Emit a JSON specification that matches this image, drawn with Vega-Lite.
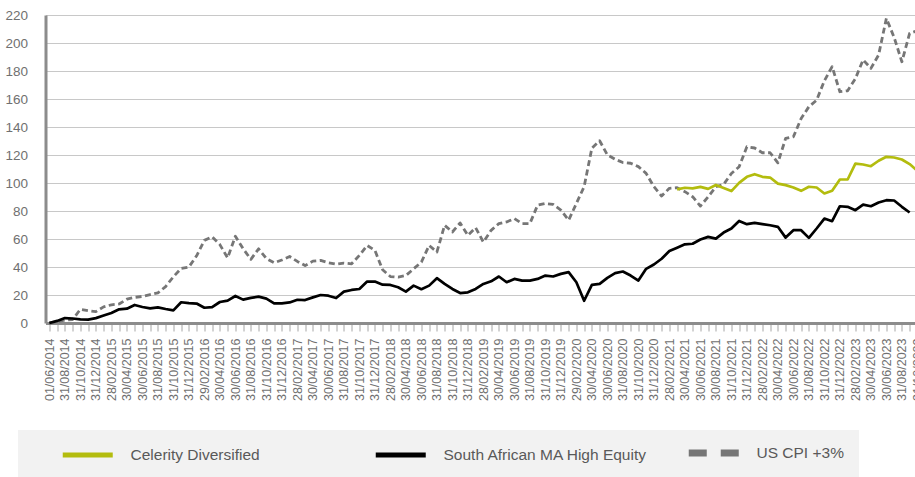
{
  "$schema": "https://vega.github.io/schema/vega-lite/v6.json",
  "autosize": {"type": "none"},
  "width": 875.75,
  "height": 308,
  "padding": {"left": 45.5, "top": 15, "right": 0, "bottom": 154},
  "background": "white",
  "config": {"view": {"stroke": null}, "font": "Liberation Sans"},
  "data": {"values": [
    {"d": "01/06/2014", "sa": 0, "cpi": 0},
    {"d": "31/07/2014", "sa": 1.5, "cpi": 1},
    {"d": "31/08/2014", "sa": 3.5, "cpi": 2},
    {"d": "30/09/2014", "sa": 3.2, "cpi": 2.5},
    {"d": "31/10/2014", "sa": 2.6, "cpi": 9.8},
    {"d": "30/11/2014", "sa": 2.4, "cpi": 8.8},
    {"d": "31/12/2014", "sa": 3.5, "cpi": 8.1},
    {"d": "31/01/2015", "sa": 5.3, "cpi": 11.5},
    {"d": "28/02/2015", "sa": 7.2, "cpi": 13},
    {"d": "31/03/2015", "sa": 9.8, "cpi": 13.6},
    {"d": "30/04/2015", "sa": 10.2, "cpi": 17},
    {"d": "31/05/2015", "sa": 12.9, "cpi": 18.3},
    {"d": "30/06/2015", "sa": 11.4, "cpi": 19},
    {"d": "31/07/2015", "sa": 10.5, "cpi": 20.3},
    {"d": "31/08/2015", "sa": 11.2, "cpi": 21.5},
    {"d": "30/09/2015", "sa": 10, "cpi": 26},
    {"d": "31/10/2015", "sa": 9, "cpi": 33},
    {"d": "30/11/2015", "sa": 14.8, "cpi": 39},
    {"d": "31/12/2015", "sa": 14.2, "cpi": 40},
    {"d": "31/01/2016", "sa": 13.9, "cpi": 48},
    {"d": "29/02/2016", "sa": 10.9, "cpi": 59},
    {"d": "31/03/2016", "sa": 11.4, "cpi": 61.5},
    {"d": "30/04/2016", "sa": 15, "cpi": 56},
    {"d": "31/05/2016", "sa": 16, "cpi": 46.5},
    {"d": "30/06/2016", "sa": 19.3, "cpi": 62},
    {"d": "31/07/2016", "sa": 16.7, "cpi": 53},
    {"d": "31/08/2016", "sa": 17.9, "cpi": 45.5},
    {"d": "30/09/2016", "sa": 18.8, "cpi": 53},
    {"d": "31/10/2016", "sa": 17.4, "cpi": 46},
    {"d": "30/11/2016", "sa": 14, "cpi": 43},
    {"d": "31/12/2016", "sa": 14, "cpi": 45},
    {"d": "31/01/2017", "sa": 14.7, "cpi": 47.5},
    {"d": "28/02/2017", "sa": 16.6, "cpi": 44},
    {"d": "31/03/2017", "sa": 16.4, "cpi": 41},
    {"d": "30/04/2017", "sa": 18.3, "cpi": 44.2},
    {"d": "31/05/2017", "sa": 20, "cpi": 44.7},
    {"d": "30/06/2017", "sa": 19.5, "cpi": 43},
    {"d": "31/07/2017", "sa": 17.8, "cpi": 42},
    {"d": "31/08/2017", "sa": 22.4, "cpi": 42.8},
    {"d": "30/09/2017", "sa": 23.6, "cpi": 42.3},
    {"d": "31/10/2017", "sa": 24.3, "cpi": 48.3},
    {"d": "30/11/2017", "sa": 29.6, "cpi": 55.4},
    {"d": "31/12/2017", "sa": 29.6, "cpi": 51.9},
    {"d": "31/01/2018", "sa": 27.4, "cpi": 38},
    {"d": "28/02/2018", "sa": 27.2, "cpi": 33.2},
    {"d": "31/03/2018", "sa": 25.5, "cpi": 32.7},
    {"d": "30/04/2018", "sa": 22.4, "cpi": 33.9},
    {"d": "31/05/2018", "sa": 26.7, "cpi": 38.7},
    {"d": "30/06/2018", "sa": 24.1, "cpi": 43.5},
    {"d": "31/07/2018", "sa": 26.7, "cpi": 55.4},
    {"d": "31/08/2018", "sa": 32, "cpi": 50.7},
    {"d": "30/09/2018", "sa": 27.9, "cpi": 69.8},
    {"d": "31/10/2018", "sa": 24.3, "cpi": 65},
    {"d": "30/11/2018", "sa": 21.4, "cpi": 71.5},
    {"d": "31/12/2018", "sa": 21.9, "cpi": 62.6},
    {"d": "31/01/2019", "sa": 24.3, "cpi": 68.1},
    {"d": "28/02/2019", "sa": 27.9, "cpi": 57.8},
    {"d": "31/03/2019", "sa": 29.8, "cpi": 66.2},
    {"d": "30/04/2019", "sa": 33.2, "cpi": 71},
    {"d": "31/05/2019", "sa": 29.1, "cpi": 72.2},
    {"d": "30/06/2019", "sa": 31.5, "cpi": 74.6},
    {"d": "31/07/2019", "sa": 30.3, "cpi": 71},
    {"d": "31/08/2019", "sa": 30.3, "cpi": 71},
    {"d": "30/09/2019", "sa": 31.5, "cpi": 84.2},
    {"d": "31/10/2019", "sa": 33.9, "cpi": 85.4},
    {"d": "30/11/2019", "sa": 33.2, "cpi": 84.7},
    {"d": "31/12/2019", "sa": 35.1, "cpi": 80.6},
    {"d": "31/01/2020", "sa": 36.3, "cpi": 73.4},
    {"d": "29/02/2020", "sa": 29.1, "cpi": 85.4},
    {"d": "31/03/2020", "sa": 15.9, "cpi": 97.4},
    {"d": "30/04/2020", "sa": 27.2, "cpi": 124.9},
    {"d": "31/05/2020", "sa": 27.9, "cpi": 130.2},
    {"d": "30/06/2020", "sa": 32.2, "cpi": 120.1},
    {"d": "31/07/2020", "sa": 35.6, "cpi": 117},
    {"d": "31/08/2020", "sa": 36.8, "cpi": 114.6},
    {"d": "30/09/2020", "sa": 33.9, "cpi": 114.1},
    {"d": "31/10/2020", "sa": 30.3, "cpi": 111.7},
    {"d": "30/11/2020", "sa": 38.7, "cpi": 106.9},
    {"d": "31/12/2020", "sa": 41.8, "cpi": 97.4},
    {"d": "31/01/2021", "sa": 45.9, "cpi": 90.7},
    {"d": "28/02/2021", "sa": 51.4, "cpi": 96.2},
    {"d": "31/03/2021", "sa": 53.8, "cpi": 96.6, "cel": 95.4},
    {"d": "30/04/2021", "sa": 56.2, "cpi": 93.8, "cel": 96.6},
    {"d": "31/05/2021", "sa": 56.6, "cpi": 90.2, "cel": 96.2},
    {"d": "30/06/2021", "sa": 59.6, "cpi": 83.5, "cel": 97.2},
    {"d": "31/07/2021", "sa": 61.5, "cpi": 90.1, "cel": 95.8},
    {"d": "30/08/2021", "sa": 60.3, "cpi": 97.3, "cel": 98.6},
    {"d": "30/09/2021", "sa": 64.6, "cpi": 99, "cel": 96.5},
    {"d": "31/10/2021", "sa": 67.5, "cpi": 106.8, "cel": 94.2},
    {"d": "30/11/2021", "sa": 72.9, "cpi": 111.6, "cel": 100.1},
    {"d": "31/12/2021", "sa": 70.6, "cpi": 125.9, "cel": 104.4},
    {"d": "31/01/2022", "sa": 71.5, "cpi": 125, "cel": 106.3},
    {"d": "28/02/2022", "sa": 70.6, "cpi": 121.6, "cel": 104.4},
    {"d": "31/03/2022", "sa": 69.8, "cpi": 121.6, "cel": 103.9},
    {"d": "30/04/2022", "sa": 68.7, "cpi": 114.4, "cel": 99.6},
    {"d": "31/05/2022", "sa": 61, "cpi": 131.8, "cel": 98.5},
    {"d": "30/06/2022", "sa": 66.3, "cpi": 133, "cel": 96.8},
    {"d": "31/07/2022", "sa": 66.3, "cpi": 146, "cel": 94.4},
    {"d": "31/08/2022", "sa": 60.8, "cpi": 154.5, "cel": 97.3},
    {"d": "30/09/2022", "sa": 67.5, "cpi": 159.2, "cel": 96.8},
    {"d": "31/10/2022", "sa": 74.6, "cpi": 173, "cel": 92.5},
    {"d": "30/11/2022", "sa": 72.7, "cpi": 183.1, "cel": 94.4},
    {"d": "31/12/2022", "sa": 83.4, "cpi": 165.2, "cel": 102.5},
    {"d": "31/01/2023", "sa": 83, "cpi": 165.9, "cel": 102.5},
    {"d": "28/02/2023", "sa": 80.6, "cpi": 174.5, "cel": 113.9},
    {"d": "31/03/2023", "sa": 84.6, "cpi": 188, "cel": 113.2},
    {"d": "30/04/2023", "sa": 83.4, "cpi": 181.9, "cel": 112},
    {"d": "31/05/2023", "sa": 86.1, "cpi": 191.5, "cel": 115.9},
    {"d": "30/06/2023", "sa": 87.7, "cpi": 217.6, "cel": 118.7},
    {"d": "31/07/2023", "sa": 87.5, "cpi": 204, "cel": 118.2},
    {"d": "31/08/2023", "sa": 83, "cpi": 186.6, "cel": 116.8},
    {"d": "30/09/2023", "sa": 78.9, "cpi": 206.9, "cel": 113.5},
    {"d": "31/10/2023", "cpi": 208.8, "cel": 108.7}
  ]},
  "encoding": {
    "x": {
      "field": "d", "type": "ordinal", "sort": null,
      "scale": {"type": "point", "padding": 0.5},
      "axis": {
        "title": null, "labelAngle": -90, "labelOverlap": false,
        "labelExpr": "toNumber(substring(datum.value, 3, 5)) % 2 === 0 ? datum.value : ''",
        "labelFont": "Liberation Sans", "labelFontSize": 12.5, "labelColor": "#707070",
        "labelPadding": 7, "tickSize": 8, "tickColor": "#a6a6a6", "tickWidth": 1,
        "domainColor": "#8c8c8c", "domainWidth": 3, "grid": false
      }
    },
    "y": {
      "field": "cpi", "type": "quantitative",
      "scale": {"domain": [0, 220], "nice": false},
      "axis": {
        "title": null, "values": [0, 20, 40, 60, 80, 100, 120, 140, 160, 180, 200, 220],
        "labelOverlap": false, "ticks": false, "labelPadding": 18,
        "labelFont": "Liberation Sans", "labelFontSize": 13.5,
        "labelColor": "#707070", "domainColor": "#8c8c8c", "domainWidth": 3,
        "grid": true, "gridColor": "#c8c8c8", "gridWidth": 1.2
      }
    }
  },
  "layer": [
    {
      "mark": {"type": "line", "strokeWidth": 2.8, "strokeDash": [6, 3.5], "strokeJoin": "round"},
      "encoding": {
        "color": {
          "datum": "US CPI +3%",
          "scale": {
            "domain": ["Celerity Diversified", "South African MA High Equity", "US CPI +3%"],
            "range": ["#b3bc0e", "#000000", "#767676"]
          },
          "legend": {
            "orient": "none", "legendX": -27.5, "legendY": 415, "direction": "horizontal",
            "title": "\u00a0", "titleOrient": "left", "titlePadding": 47, "titleFontSize": 2,
            "fillColor": "#f2f2f2", "padding": 15,
            "symbolType": "stroke", "symbolSize": 2500, "symbolStrokeWidth": 5,
            "labelFont": "Liberation Sans", "labelFontSize": 15.5, "labelColor": "#595959",
            "labelOffset": 35, "columnPadding": 26, "gridAlign": "all", "labelLimit": 400,
            "encode": {"symbols": {"update": {
              "strokeDash": {"signal": "datum.value === 'US CPI +3%' ? [18, 14] : [100, 0]"},
              "strokeWidth": {"signal": "datum.value === 'US CPI +3%' ? 7 : 5"}
            }}}
          }
        }
      }
    },
    {
      "mark": {"type": "line", "strokeWidth": 2.7, "strokeJoin": "round"},
      "encoding": {
        "y": {"field": "sa", "type": "quantitative"},
        "color": {"datum": "South African MA High Equity"}
      }
    },
    {
      "mark": {"type": "line", "strokeWidth": 2.7, "strokeJoin": "round"},
      "encoding": {
        "y": {"field": "cel", "type": "quantitative"},
        "color": {"datum": "Celerity Diversified"}
      }
    }
  ]
}
